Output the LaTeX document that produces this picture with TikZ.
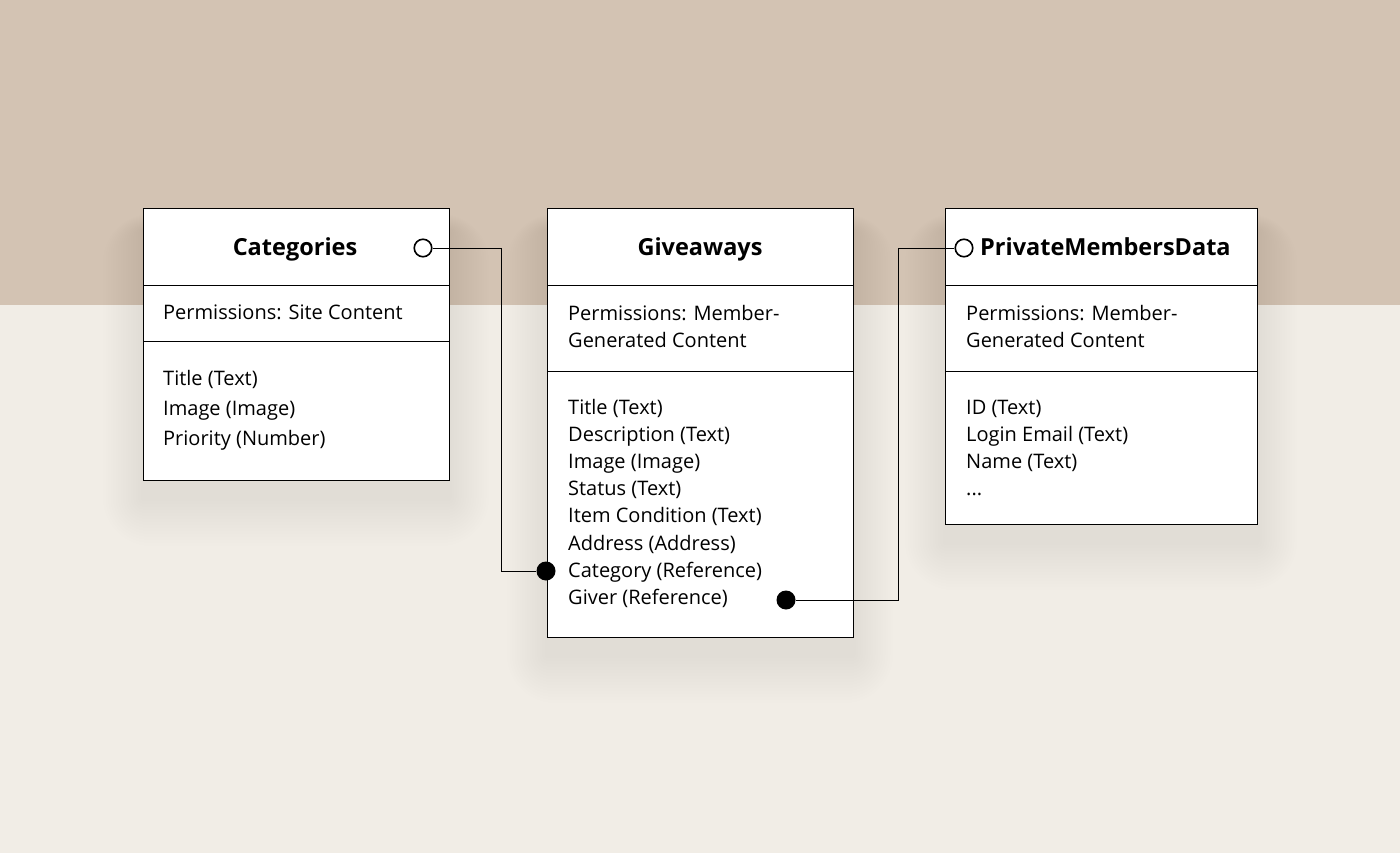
\documentclass[tikz,border=0pt]{standalone}
\usepackage{fontspec}
\setmainfont{Open Sans}
\definecolor{topbg}{HTML}{D3C3B3}
\definecolor{botbg}{HTML}{F1EDE6}
\newcommand{\softshadow}[4]{%
  \foreach \i in {1,...,16}{%
    \fill[black, opacity=0.0035, rounded corners=\i*3]
      ({#1-\i*2.5},{#2+22-\i*1.0}) rectangle ({#3+\i*2.5},{#4+18+\i*3.0});
  }}
\tikzset{
  table/.style={draw=black, line width=1pt, fill=white, anchor=north west, inner sep=0},
  field/.style={anchor=base west, inner sep=0, font=\fontsize{20}{27}\selectfont},
  ttl/.style={inner sep=0, font=\fontsize{23.5}{27}\selectfont\bfseries},
  opencirc/.style={circle, draw=black, line width=1.6pt, fill=white, minimum size=17.5, inner sep=0},
  dotcirc/.style={circle, fill=black, minimum size=19, inner sep=0},
  conn/.style={draw=black, line width=1pt},
}
\begin{document}
\begin{tikzpicture}[x=1pt,y=-1pt]
\useasboundingbox (0,0) rectangle (1400,853);
\fill[topbg] (0,0) rectangle (1400,305);
\fill[botbg] (0,305) rectangle (1400,853);
% shadows
\softshadow{143}{208}{449}{480}
\softshadow{547}{208}{853}{637}
\softshadow{945}{208}{1257}{524}
% tables
\node[table, minimum width=306, minimum height=272] (cat) at (143,208) {};
\node[table, minimum width=306, minimum height=429] (give) at (547,208) {};
\node[table, minimum width=312, minimum height=316] (priv) at (945,208) {};
% dividers
\draw[conn] (143,285) -- (449,285);
\draw[conn] (143,341) -- (449,341);
\draw[conn] (547,285) -- (853,285);
\draw[conn] (547,371) -- (853,371);
\draw[conn] (945,285) -- (1257,285);
\draw[conn] (945,371) -- (1257,371);
% titles
\node[ttl, anchor=base] (catT) at (295,255) {Categories};
\node[ttl, anchor=base] (giveT) at (700,255) {Giveaways};
\node[ttl, anchor=base west] (privT) at (980,255) {PrivateMembersData};
% Categories fields
\node[field] (cp) at (163,319) {Permissions: Site Content};
\node[field] (cf1) at (163,385) {Title (Text)};
\node[field] (cf2) at (163,415) {Image (Image)};
\node[field] (cf3) at (163,445) {Priority (Number)};
% Giveaways fields
\node[field] (gp1) at (568,320) {Permissions: Member-};
\node[field] (gp2) at (568,347) {Generated Content};
\node[field] (gf1) at (568,414) {Title (Text)};
\node[field] (gf2) at (568,441) {Description (Text)};
\node[field] (gf3) at (568,468) {Image (Image)};
\node[field] (gf4) at (568,495) {Status (Text)};
\node[field] (gf5) at (568,522) {Item Condition (Text)};
\node[field] (gf6) at (568,550) {Address (Address)};
\node[field] (gf7) at (568,577) {Category (Reference)};
\node[field] (gf8) at (568,604) {Giver (Reference)};
% Private fields
\node[field] (pp1) at (966,320) {Permissions: Member-};
\node[field] (pp2) at (966,347) {Generated Content};
\node[field] (pf1) at (966,414) {ID (Text)};
\node[field] (pf2) at (966,441) {Login Email (Text)};
\node[field] (pf3) at (966,468) {Name (Text)};
\node[field] (pf4) at (966,495) {...};
% connector ends
\node[opencirc] (o1) at (423,248) {};
\node[dotcirc] (d1) at (546,571) {};
\node[opencirc] (o2) at (964,248) {};
\node[dotcirc] (d2) at (786,600) {};
\coordinate (j1) at (501,248);
\coordinate (j2) at (898,600);
\draw[conn] (o1) -- (j1) |- (d1);
\draw[conn] (d2) -- (j2) |- (o2);
\end{tikzpicture}
\end{document}
